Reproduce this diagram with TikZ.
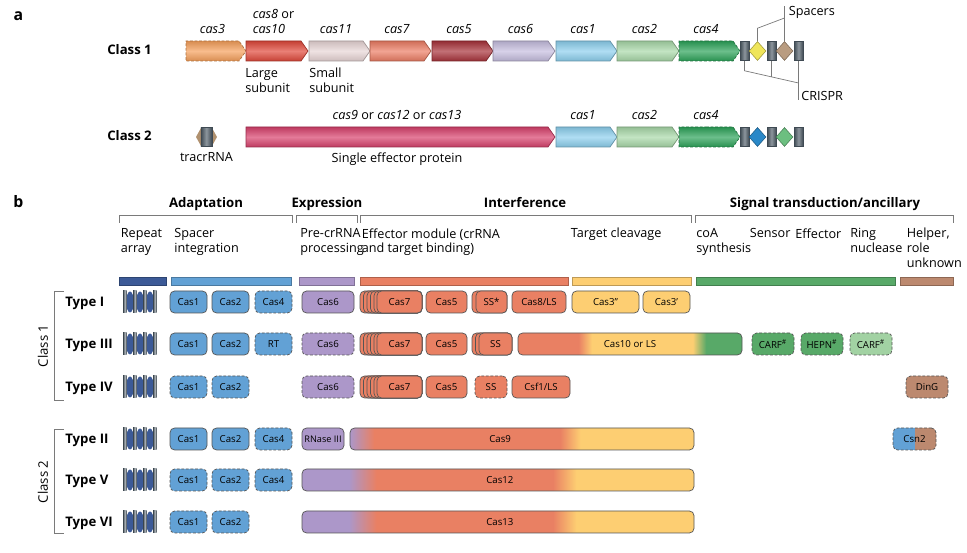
\documentclass[tikz,border=0pt]{standalone}
\usepackage{fontspec}
\setmainfont{Open Sans}
\usetikzlibrary{shapes.symbols,shapes.geometric,positioning}

\definecolor{lnkgray}{HTML}{7A7A7A}
\definecolor{boxln}{HTML}{555555}
\definecolor{repblue}{HTML}{3C5A97}
\definecolor{adblue}{HTML}{62A1D5}
\definecolor{lav}{HTML}{AC97C9}
\definecolor{salm}{HTML}{E98063}
\definecolor{yell}{HTML}{FDCE72}
\definecolor{grn}{HTML}{58A968}
\definecolor{ltgrn}{HTML}{A2D2A3}
\definecolor{brn}{HTML}{BC896F}
\definecolor{slate}{HTML}{4F5D68}
\definecolor{cthree}{HTML}{F5A05C}
\definecolor{ceight}{HTML}{E0493B}
\definecolor{celeven}{HTML}{E8D6D6}
\definecolor{cseven}{HTML}{EC7D64}
\definecolor{cfive}{HTML}{A8333B}
\definecolor{csix}{HTML}{C6BEDF}
\definecolor{cone}{HTML}{8ED0EE}
\definecolor{ctwo}{HTML}{A9D9A9}
\definecolor{cfour}{HTML}{2DA35A}
\definecolor{ceff}{HTML}{D8426D}
\definecolor{spyel}{HTML}{EFE55A}
\definecolor{sptan}{HTML}{B99C80}
\definecolor{spblu}{HTML}{2A88C8}
\definecolor{spgrn}{HTML}{6CBF80}
\definecolor{trac}{HTML}{B0916F}

\pgfdeclarehorizontalshading{cas10shade}{100bp}{color(0bp)=(salm); color(38.5bp)=(salm); color(41.5bp)=(yell); color(64bp)=(yell); color(67bp)=(grn); color(100bp)=(grn)}
\pgfdeclarehorizontalshading{cas9shade}{100bp}{color(0bp)=(lav); color(25bp)=(lav); color(28.5bp)=(salm); color(55.5bp)=(salm); color(58.5bp)=(yell); color(100bp)=(yell)}
\pgfdeclarehorizontalshading{cas12shade}{100bp}{color(0bp)=(lav); color(31bp)=(lav); color(34.5bp)=(salm); color(57bp)=(salm); color(60bp)=(yell); color(100bp)=(yell)}
\pgfdeclarehorizontalshading{csnshade}{100bp}{color(0bp)=(adblue); color(49.9bp)=(adblue); color(50.1bp)=(brn); color(100bp)=(brn)}

\newcommand{\pxu}{0.02cm}

\begin{document}
\begin{tikzpicture}[x=0.02cm, y=-0.02cm,
  lnk/.style={draw=lnkgray, line width=0.4pt},
  gene/.style={signal, signal to=east, signal pointer angle=110,
    minimum height=20*\pxu, inner sep=0pt, draw=#1!70!black, line width=0.4pt,
    top color=#1!88!black, bottom color=#1!88!black, middle color=#1!70!white},
  glab/.style={font=\fontsize{7.2}{8.5}\selectfont\itshape, inner sep=0pt, align=left},
  txt/.style={font=\fontsize{7.2}{8.5}\selectfont, inner sep=0pt, align=left},
  bold/.style={font=\fontsize{7.5}{9}\selectfont\bfseries, inner sep=0pt},
  rep/.style={rectangle, minimum width=9*\pxu, minimum height=19*\pxu, inner sep=0pt,
    draw=slate!80!black, line width=0.3pt, left color=slate!80!black,
    right color=slate!80!black, middle color=slate!65!white},
  spc/.style={diamond, minimum width=17*\pxu, minimum height=19*\pxu, inner sep=0pt,
    draw=#1!65!black, line width=0.3pt, fill=#1},
  cbox/.style={rectangle, rounded corners=2.6pt, draw=boxln, line width=0.4pt,
    minimum height=22*\pxu, inner sep=0pt, font=\fontsize{5.5}{6}\selectfont},
  opt/.style={dash pattern=on 1.6pt off 1pt},
  stk/.style={draw=boxln, line width=0.4pt, fill=salm, rounded corners=2.6pt},
  bar/.style={draw=#1!75!black, line width=0.3pt, fill=#1}
]
\useasboundingbox (0,0) rectangle (967,553);

% panel a
\node[font=\fontsize{9}{10}\selectfont\bfseries, inner sep=0pt, anchor=base] (pa) at (18.5,21) {a};
\node[bold, anchor=base west] (cl1) at (107,54.5) {Class 1};
\node[bold, anchor=base west] (cl2) at (107,141) {Class 2};

\node[gene=cthree, opt, minimum width=60*\pxu] (c3) at (212.5,51) {};
\node[gene=ceight, minimum width=62*\pxu] (c8) at (273.5,51) {};
\node[gene=celeven, minimum width=61*\pxu] (c11) at (336,51) {};
\node[gene=cseven, minimum width=61*\pxu] (c7) at (397,51) {};
\node[gene=cfive, minimum width=61*\pxu] (c5) at (459,51) {};
\node[gene=csix, minimum width=62*\pxu] (c6) at (520.5,51) {};
\node[gene=cone, minimum width=61*\pxu] (c1) at (583,51) {};
\node[gene=ctwo, minimum width=62*\pxu] (c2) at (644.5,51) {};
\node[gene=cfour, opt, minimum width=61*\pxu] (c4) at (706,51) {};

\node[glab, above=4pt of c3] (l3) {cas3};
\node[txt, above=4pt of c8] (l8) {\textit{cas8} or\\\textit{cas10}};
\node[glab, above=4pt of c11] (l11) {cas11};
\node[glab, above=4pt of c7] (l7) {cas7};
\node[glab, above=4pt of c5] (l5) {cas5};
\node[glab, above=4pt of c6] (l6) {cas6};
\node[glab, above=4pt of c1] (l1) {cas1};
\node[glab, above=4pt of c2] (l2) {cas2};
\node[glab, above=4pt of c4] (l4) {cas4};
\node[txt, anchor=north west] (lsub) at (245,68) {Large\\subunit};
\node[txt, anchor=north west] (ssub) at (309,68) {Small\\subunit};

\node[rep] (r1) at (744.5,51) {};
\node[spc=spyel] (s1) at (757.5,51) {};
\node[rep] (r2) at (771.5,51) {};
\node[spc=sptan] (s2) at (784.5,51) {};
\node[rep] (r3) at (798.5,51) {};

\node[txt, anchor=west] (spacers) at (788.5,12) {Spacers};
\coordinate (spk) at (784.5,18);
\draw[lnk] (s1.north) -- ++(0,-13) -- (spk);
\draw[lnk] (s2.north) -- (s2.north |- spacers.north);
\node[txt, anchor=west] (crispr) at (801,95.5) {CRISPR};
\coordinate (crk) at (798.5,83);
\draw[lnk] (r1.south) -- ++(0,10) -- (crk);
\draw[lnk] (r2.south) -- ++(0,16);
\draw[lnk] (r3.south) -- (r3.south |- crispr.south);

\fill[trac] (196,137) -- (201,128) -- (212,128) -- (217,137) -- (212,146) -- (201,146) -- cycle;
\node[rep, minimum width=11*\pxu] (tracr) at (206.3,137) {};
\node[txt, anchor=north] (tracrl) at (206.5,152) {tracrRNA};

\node[gene=ceff, minimum width=309*\pxu] (ceff) at (397,137) {};
\node[gene=cone, minimum width=61*\pxu] (k1) at (583,137) {};
\node[gene=ctwo, minimum width=62*\pxu] (k2) at (644.5,137) {};
\node[gene=cfour, opt, minimum width=61*\pxu] (k4) at (706,137) {};
\node[txt, above=4pt of ceff] (leff) {\textit{cas9} or \textit{cas12} or \textit{cas13}};
\node[txt, below=3.2pt of ceff] (peff) {Single effector protein};
\node[glab, above=4pt of k1] (m1) {cas1};
\node[glab, above=4pt of k2] (m2) {cas2};
\node[glab, above=4pt of k4] (m4) {cas4};

\node[rep] (r4) at (744.5,137) {};
\node[spc=spblu] (s3) at (757.5,137) {};
\node[rep] (r5) at (771.5,137) {};
\node[spc=spgrn] (s4) at (784.5,137) {};
\node[rep] (r6) at (798.5,137) {};

% panel b
\node[font=\fontsize{9}{10}\selectfont\bfseries, inner sep=0pt, anchor=base] (pb) at (18.5,208) {b};
\node[bold, anchor=base] (hadapt) at (206,208) {Adaptation};
\node[bold, anchor=base] (hexpr) at (327,208) {Expression};
\node[bold, anchor=base] (hinter) at (525,208) {Interference};
\node[bold, anchor=base] (hsig) at (825,208) {Signal transduction/ancillary};

\draw[lnk] (119,223) -- (119,215) -- (292,215) -- (292,223);
\draw[lnk] (296,223) -- (296,215) -- (357,215) -- (357,223);
\draw[lnk] (360,223) -- (360,215) -- (691,215) -- (691,223);
\draw[lnk] (695,223) -- (695,215) -- (953,215) -- (953,223);

\node[txt, anchor=north west] (srep) at (120.5,228) {Repeat\\array};
\node[txt, anchor=north west] (sspc) at (174,228) {Spacer\\integration};
\node[txt, anchor=north west] (spre) at (300,228) {Pre-crRNA\\processing};
\node[txt, anchor=north west] (seff) at (361.5,228) {Effector module (crRNA\\and target binding)};
\node[txt, anchor=north west] (scut) at (570.5,228) {Target cleavage};
\node[txt, anchor=north west] (scoa) at (696,228) {coA\\synthesis};
\node[txt, anchor=north west] (ssen) at (749.5,228) {Sensor};
\node[txt, anchor=north west] (seffr) at (795,228) {Effector};
\node[txt, anchor=north west] (sring) at (850,228) {Ring\\nuclease};
\node[txt, anchor=north west] (shelp) at (906.5,228) {Helper,\\role\\unknown};

\draw[bar=repblue] (119,277) rectangle (166,285);
\draw[bar=adblue] (171,277) rectangle (291,285);
\draw[bar=lav] (299,277) rectangle (354,285);
\draw[bar=salm] (360,277) rectangle (568,285);
\draw[bar=yell] (572,277) rectangle (691,285);
\draw[bar=grn] (696,277) rectangle (895,285);
\draw[bar=brn] (900,277) rectangle (953,285);

% class brackets
\draw[lnk] (64,291) -- (54,291) -- (54,400) -- (64,400);
\node[font=\fontsize{7.5}{9}\selectfont, inner sep=0pt, rotate=90] (cls1) at (43,346) {Class 1};
\draw[lnk] (64,429) -- (54,429) -- (54,533) -- (64,533);
\node[font=\fontsize{7.5}{9}\selectfont, inner sep=0pt, rotate=90] (cls2) at (43,482) {Class 2};

\node[bold, anchor=base west] (ty1) at (65,307) {Type I};
\node[bold, anchor=base west] (ty3) at (65,349) {Type III};
\node[bold, anchor=base west] (ty4) at (65,392) {Type IV};
\node[bold, anchor=base west] (ty2) at (65,444) {Type II};
\node[bold, anchor=base west] (ty5) at (65,485) {Type V};
\node[bold, anchor=base west] (ty6) at (65,527) {Type VI};

% repeat arrays
\foreach \ry in {302,344,387,439,480,522} {
  \foreach \ex in {130,140,150}
    \fill[repblue] (\ex,\ry) ellipse [x radius=3.8, y radius=10.5];
  \foreach \bx in {123,133,143,153}
    \shade[left color=slate!75!black, right color=slate!75!black, middle color=slate!45!white] (\bx,\ry-11) rectangle ++(3.6,22);
}

% type I
\node[cbox, fill=adblue, minimum width=37*\pxu] (t1cas1) at (188.5,302) {Cas1};
\node[cbox, fill=adblue, minimum width=37*\pxu] (t1cas2) at (230.5,302) {Cas2};
\node[cbox, opt, fill=adblue, minimum width=37*\pxu] (t1cas4) at (273.5,302) {Cas4};
\node[cbox, fill=lav, minimum width=52*\pxu] (t1cas6) at (328,302) {Cas6};
\foreach \l in {360,363.5,367,370.5,374} \draw[stk] (\l,291) rectangle (422,313);
\node[cbox, fill=salm, minimum width=45*\pxu] (t1cas7) at (399.5,302) {Cas7};
\node[cbox, fill=salm, minimum width=41*\pxu] (t1cas5) at (446.5,302) {Cas5};
\draw[stk] (472,291) rectangle (507,313);
\node[cbox, fill=salm, minimum width=31*\pxu] (t1ss) at (491.5,302) {SS*};
\node[cbox, fill=salm, minimum width=54*\pxu] (t1cas8) at (539,302) {Cas8/LS};
\node[cbox, fill=yell, minimum width=67*\pxu] (t1cas3b) at (605.5,302) {Cas3”};
\node[cbox, fill=yell, minimum width=47*\pxu] (t1cas3a) at (666.5,302) {Cas3’};

% type III
\node[cbox, fill=adblue, minimum width=37*\pxu] (t3cas1) at (188.5,344) {Cas1};
\node[cbox, fill=adblue, minimum width=37*\pxu] (t3cas2) at (230.5,344) {Cas2};
\node[cbox, opt, fill=adblue, minimum width=37*\pxu] (t3rt) at (273.5,344) {RT};
\node[cbox, opt, fill=lav, minimum width=52*\pxu] (t3cas6) at (328,344) {Cas6};
\foreach \l in {360,363.5,367,370.5,374} \draw[stk] (\l,333) rectangle (422,355);
\node[cbox, fill=salm, minimum width=45*\pxu] (t3cas7) at (399.5,344) {Cas7};
\node[cbox, fill=salm, minimum width=41*\pxu] (t3cas5) at (446.5,344) {Cas5};
\foreach \l in {472,475.5} \draw[stk] (\l,333) rectangle (512,355);
\node[cbox, fill=salm, minimum width=33*\pxu] (t3ss) at (495.5,344) {SS};
\node[cbox, shading=cas10shade, minimum width=224*\pxu] (t3cas10) at (630,344) {Cas10 or LS};
\node[cbox, opt, fill=grn, minimum width=42*\pxu] (t3carf) at (773,344) {CARF\textsuperscript{\#}};
\node[cbox, opt, fill=grn, minimum width=42*\pxu] (t3hepn) at (822,344) {HEPN\textsuperscript{\#}};
\node[cbox, opt, fill=ltgrn, minimum width=42*\pxu] (t3carfb) at (871,344) {CARF\textsuperscript{\#}};

% type IV
\node[cbox, opt, fill=adblue, minimum width=37*\pxu] (t4cas1) at (188.5,387) {Cas1};
\node[cbox, opt, fill=adblue, minimum width=37*\pxu] (t4cas2) at (230.5,387) {Cas2};
\node[cbox, opt, fill=lav, minimum width=52*\pxu] (t4cas6) at (328,387) {Cas6};
\foreach \l in {360,363.5,367,370.5,374} \draw[stk] (\l,376) rectangle (422,398);
\node[cbox, fill=salm, minimum width=45*\pxu] (t4cas7) at (399.5,387) {Cas7};
\node[cbox, fill=salm, minimum width=41*\pxu] (t4cas5) at (446.5,387) {Cas5};
\node[cbox, opt, fill=salm, minimum width=32*\pxu] (t4ss) at (491,387) {SS};
\node[cbox, fill=salm, minimum width=58*\pxu] (t4csf1) at (541,387) {Csf1/LS};
\node[cbox, opt, fill=brn, minimum width=42*\pxu] (t4ding) at (927,387) {DinG};

% type II
\node[cbox, fill=adblue, minimum width=37*\pxu] (t2cas1) at (188.5,439) {Cas1};
\node[cbox, fill=adblue, minimum width=37*\pxu] (t2cas2) at (230.5,439) {Cas2};
\node[cbox, opt, fill=adblue, minimum width=37*\pxu] (t2cas4) at (273.5,439) {Cas4};
\node[cbox, fill=lav, minimum width=42*\pxu, font=\fontsize{5.2}{6}\selectfont] (t2rnase) at (323,439) {RNase III};
\node[cbox, shading=cas9shade, minimum width=344*\pxu] (t2cas9) at (522,439) {};
\node[cbox, draw=none, anchor=west] (t2cas9txt) at (489,439) {Cas9};
\node[cbox, opt, shading=csnshade, minimum width=43*\pxu] (t2csn2) at (914.5,439) {Csn2};

% type V
\node[cbox, opt, fill=adblue, minimum width=37*\pxu] (t5cas1) at (188.5,480) {Cas1};
\node[cbox, opt, fill=adblue, minimum width=37*\pxu] (t5cas2) at (230.5,480) {Cas2};
\node[cbox, opt, fill=adblue, minimum width=37*\pxu] (t5cas4) at (273.5,480) {Cas4};
\node[cbox, shading=cas12shade, minimum width=392*\pxu] (t5cas12) at (498,480) {};
\node[cbox, draw=none, anchor=west] (t5cas12txt) at (486,480) {Cas12};

% type VI
\node[cbox, opt, fill=adblue, minimum width=37*\pxu] (t6cas1) at (188.5,522) {Cas1};
\node[cbox, opt, fill=adblue, minimum width=37*\pxu] (t6cas2) at (230.5,522) {Cas2};
\node[cbox, shading=cas12shade, minimum width=392*\pxu] (t6cas13) at (498,522) {};
\node[cbox, draw=none, anchor=west] (t6cas13txt) at (486,522) {Cas13};
\end{tikzpicture}
\end{document}
